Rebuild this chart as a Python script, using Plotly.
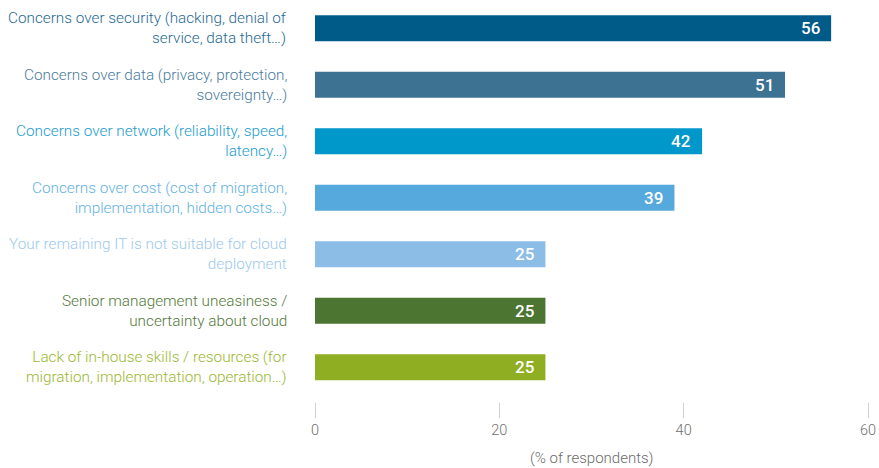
import plotly.graph_objects as go

categories = [
    "Concerns over security (hacking, denial of<br>service, data theft…)",
    "Concerns over data (privacy, protection,<br>sovereignty…)",
    "Concerns over network (reliability, speed,<br>latency…)",
    "Concerns over cost (cost of migration,<br>implementation, hidden costs…)",
    "Your remaining IT is not suitable for cloud<br>deployment",
    "Senior management uneasiness /<br>uncertainty about cloud",
    "Lack of in-house skills / resources (for<br>migration, implementation, operation…)",
]
values = [56, 51, 42, 39, 25, 25, 25]
bar_colors = ["#005b88", "#3d7293", "#0097cb", "#55a9dd", "#8bbde7", "#4b7530", "#90ae22"]
label_colors = ["#1f6a94", "#4a7c9c", "#1a9bd0", "#63b2e2", "#9dc9ee", "#53793a", "#9bb72f"]
x_ticks = [0, 20, 40, 60]

positions = list(range(len(categories)))

fig = go.Figure(
    go.Bar(
        x=values,
        y=positions,
        orientation="h",
        marker=dict(color=bar_colors, line=dict(width=0)),
        width=0.46,
        hoverinfo="skip",
    )
)

annotations = []
for i, (cat, val) in enumerate(zip(categories, values)):
    # category label to the left of the plot
    annotations.append(dict(
        x=0, xref="paper", y=i, yref="y",
        text=cat, showarrow=False, xanchor="right", yanchor="middle",
        align="right", xshift=-26,
        font=dict(family="Roboto", size=15.3, color=label_colors[i], weight=300),
    ))
    # value label inside the bar end
    annotations.append(dict(
        x=val, xref="x", y=i, yref="y",
        text=str(val), showarrow=False, xanchor="right", yanchor="middle",
        xshift=-9,
        font=dict(family="Roboto", size=17, color="white", weight=500),
    ))

annotations.append(dict(
    x=0.5, xref="paper", y=-0.14, yref="paper",
    text="(% of respondents)", showarrow=False, xanchor="center", yanchor="middle",
    font=dict(family="Roboto", size=15, color="#6b6b6b", weight=300),
))

fig.update_layout(
    width=879, height=468,
    margin=dict(l=315, r=11, t=0, b=66),
    paper_bgcolor="white", plot_bgcolor="white",
    showlegend=False,
    bargap=0.54,
    annotations=annotations,
    xaxis=dict(
        range=[0, 60], tickvals=x_ticks, ticktext=[str(t) for t in x_ticks],
        showgrid=False, zeroline=False, showline=False,
        ticks="outside", ticklen=15, tickwidth=1, tickcolor="#d0d0d0",
        tickfont=dict(family="Roboto", size=14.5, color="#707070", weight=300),
        fixedrange=True,
    ),
    yaxis=dict(
        range=[6.615, -0.5], showticklabels=False, showgrid=False,
        zeroline=False, showline=False, ticks="", fixedrange=True,
    ),
)

fig.write_html("out.html")
